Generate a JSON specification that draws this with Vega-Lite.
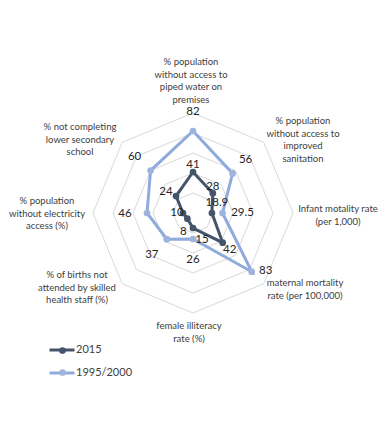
{
  "$schema": "https://vega.github.io/schema/vega-lite/v6.json",
  "width": 390,
  "height": 427,
  "autosize": {"type": "none"},
  "padding": 0,
  "background": "white",
  "config": {"view": {"stroke": null}, "font": "Lato"},
  "datasets": {
    "vals": [
      {"k": 0, "series": "2015", "value": 41, "label": "41"},
      {"k": 1, "series": "2015", "value": 28, "label": "28"},
      {"k": 2, "series": "2015", "value": 18.9, "label": "18.9"},
      {"k": 3, "series": "2015", "value": 42, "label": "42"},
      {"k": 4, "series": "2015", "value": 15, "label": "15"},
      {"k": 5, "series": "2015", "value": 8, "label": "8"},
      {"k": 6, "series": "2015", "value": 10, "label": "10"},
      {"k": 7, "series": "2015", "value": 24, "label": "24"},
      {"k": 0, "series": "1995/2000", "value": 82, "label": "82"},
      {"k": 1, "series": "1995/2000", "value": 56, "label": "56"},
      {"k": 2, "series": "1995/2000", "value": 29.5, "label": "29.5"},
      {"k": 3, "series": "1995/2000", "value": 83, "label": "83"},
      {"k": 4, "series": "1995/2000", "value": 26, "label": "26"},
      {"k": 5, "series": "1995/2000", "value": 37, "label": "37"},
      {"k": 6, "series": "1995/2000", "value": 46, "label": "46"},
      {"k": 7, "series": "1995/2000", "value": 60, "label": "60"}
    ],
    "rings": [
      {"ring": 20, "k": [0, 1, 2, 3, 4, 5, 6, 7, 8]},
      {"ring": 40, "k": [0, 1, 2, 3, 4, 5, 6, 7, 8]},
      {"ring": 60, "k": [0, 1, 2, 3, 4, 5, 6, 7, 8]},
      {"ring": 80, "k": [0, 1, 2, 3, 4, 5, 6, 7, 8]},
      {"ring": 100, "k": [0, 1, 2, 3, 4, 5, 6, 7, 8]}
    ],
    "cats": [
      {"k": 0, "name": ["% population", "without access to", "piped water on", "premises"]},
      {"k": 1, "name": ["% population", "without access to", "improved", "sanitation"]},
      {"k": 2, "name": ["Infant motality rate", "(per 1,000)"]},
      {"k": 3, "name": ["maternal mortality", "rate (per 100,000)"]},
      {"k": 4, "name": ["female illiteracy", "rate (%)"]},
      {"k": 5, "name": ["% of births not", "attended by skilled", "health staff (%)"]},
      {"k": 6, "name": ["% population", "without electricity", "access (%)"]},
      {"k": 7, "name": ["% not completing", "lower secondary", "school"]}
    ]
  },
  "layer": [
    {
      "data": {"name": "rings"},
      "transform": [
        {"flatten": ["k"]},
        {"calculate": "datum.ring*sin(datum.k*PI/4)", "as": "x"},
        {"calculate": "datum.ring*cos(datum.k*PI/4)", "as": "y"}
      ],
      "mark": {"type": "line", "color": "#d9d9d9", "strokeWidth": 1},
      "encoding": {
        "x": {"field": "x", "type": "quantitative", "scale": {"domain": [-193, 197], "nice": false, "zero": false}, "axis": null},
        "y": {"field": "y", "type": "quantitative", "scale": {"domain": [-214, 213], "nice": false, "zero": false}, "axis": null},
        "detail": {"field": "ring"},
        "order": {"field": "k", "type": "quantitative"}
      }
    },
    {
      "data": {"name": "vals"},
      "transform": [
        {"calculate": "datum.value*sin(datum.k*PI/4)", "as": "x"},
        {"calculate": "datum.value*cos(datum.k*PI/4)", "as": "y"}
      ],
      "mark": {"type": "line", "interpolate": "linear-closed", "strokeWidth": 3},
      "encoding": {
        "x": {"field": "x", "type": "quantitative"},
        "y": {"field": "y", "type": "quantitative"},
        "order": {"field": "k", "type": "quantitative"},
        "color": {
          "field": "series", "type": "nominal",
          "scale": {"domain": ["2015", "1995/2000"], "range": ["#44546a", "#8faadc"]},
          "legend": {
            "orient": "none", "legendX": 48, "legendY": 336, "title": null,
            "symbolType": "stroke", "symbolSize": 625, "symbolStrokeWidth": 3,
            "labelFont": "Lato", "labelFontSize": 11, "labelColor": "#404040",
            "labelOffset": 0, "rowPadding": 3
          }
        }
      }
    },
    {
      "data": {"name": "vals"},
      "transform": [
        {"calculate": "datum.value*sin(datum.k*PI/4)", "as": "x"},
        {"calculate": "datum.value*cos(datum.k*PI/4)", "as": "y"},
        {"calculate": "datum.series", "as": "s2"}
      ],
      "mark": {"type": "point", "filled": true, "size": 45, "opacity": 1},
      "encoding": {
        "x": {"field": "x", "type": "quantitative"},
        "y": {"field": "y", "type": "quantitative"},
        "fill": {
          "field": "s2", "type": "nominal",
          "scale": {"domain": ["2015", "1995/2000", "none"], "range": ["#44546a", "#9fb4dc", "#ffffff"]},
          "legend": {
            "orient": "none", "legendX": 57, "legendY": 345, "title": null,
            "values": ["2015", "1995/2000"],
            "symbolType": "circle", "symbolSize": 45, "symbolStrokeWidth": 0,
            "labelFontSize": 11, "labelExpr": "''", "rowPadding": 10
          }
        }
      }
    },
    {
      "data": {"name": "vals"},
      "transform": [
        {"calculate": "datum.series=='2015' ? [0,0,5,7,9,-4,-6,-10][datum.k] : [0,13,20,14,0,-15,-22,-16][datum.k]", "as": "ox"},
        {"calculate": "datum.series=='2015' ? [7,6,10,-7,-12,-13,0,4][datum.k] : [19,13,0,1,-21,-16,-1,14][datum.k]", "as": "oy"},
        {"calculate": "datum.value*sin(datum.k*PI/4)+datum.ox", "as": "x"},
        {"calculate": "datum.value*cos(datum.k*PI/4)+datum.oy", "as": "y"}
      ],
      "mark": {"type": "text", "font": "Lato", "fontSize": 11.5, "color": "#262626", "baseline": "middle", "align": "center"},
      "encoding": {
        "x": {"field": "x", "type": "quantitative"},
        "y": {"field": "y", "type": "quantitative"},
        "text": {"field": "label"}
      }
    },
    {
      "data": {"name": "cats"},
      "transform": [
        {"calculate": "[-2,110,145,112,-4,-116,-146,-113][datum.k]", "as": "x"},
        {"calculate": "[151,92,4,-70,-113,-62,12,86][datum.k]", "as": "y"}
      ],
      "mark": {"type": "text", "font": "Lato", "fontSize": 9.5, "lineHeight": 12.5, "color": "#404040", "baseline": "middle", "align": "center"},
      "encoding": {
        "x": {"field": "x", "type": "quantitative"},
        "y": {"field": "y", "type": "quantitative"},
        "text": {"field": "name"}
      }
    }
  ]
}
